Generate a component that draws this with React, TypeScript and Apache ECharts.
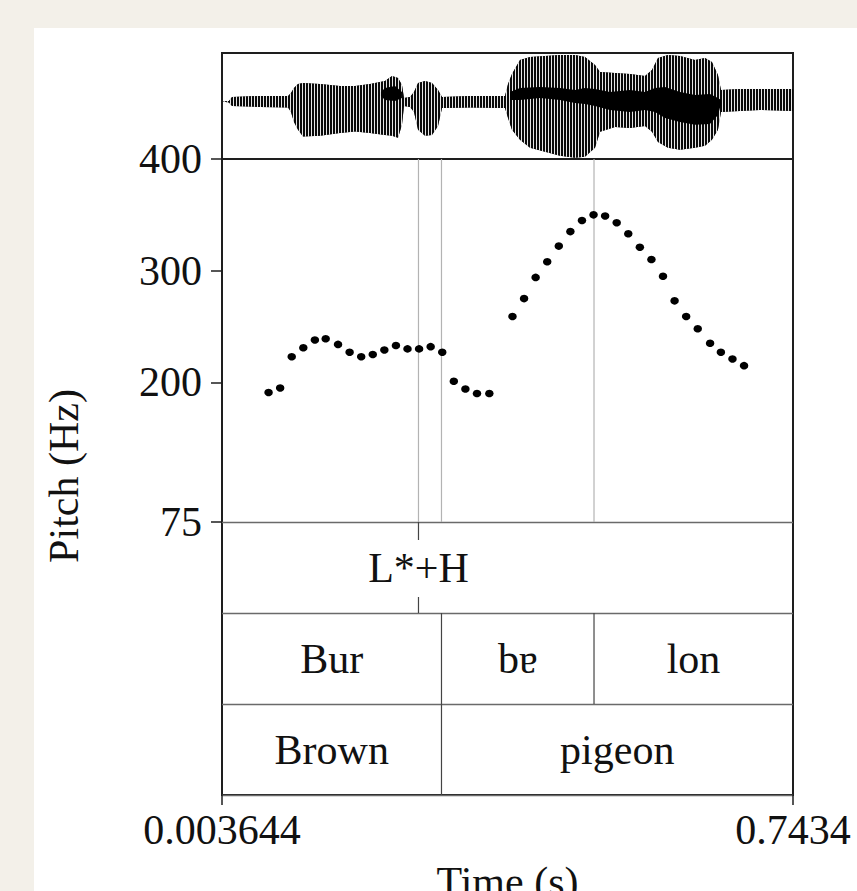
import React, { useEffect, useRef } from "react";
import * as echarts from "echarts";

const T_MIN = 0.003644;
const T_MAX = 0.7434;
const FONT = "'Liberation Serif', 'Times New Roman', serif";
const FS = 42;

// Waveform envelope (amplitude units, 0 = zero line)
const waveTime = [0.0036, 0.0127, 0.0166, 0.0529, 0.0892, 0.093, 0.0969, 0.1021, 0.1086, 0.1306, 0.1565, 0.176, 0.1954, 0.2148, 0.2239, 0.2317, 0.2368, 0.2394, 0.2472, 0.2524, 0.2576, 0.2667, 0.2757, 0.2835, 0.2887, 0.3249, 0.3703, 0.3742, 0.3793, 0.3897, 0.4027, 0.4221, 0.4415, 0.461, 0.4739, 0.4869, 0.4934, 0.5128, 0.5322, 0.5517, 0.5607, 0.5685, 0.5814, 0.597, 0.6164, 0.6294, 0.6384, 0.6462, 0.6501, 0.6747, 0.7006, 0.7434];
const waveUpper = [0, 0.014, 0.097, 0.117, 0.117, 0.179, 0.281, 0.363, 0.384, 0.363, 0.322, 0.322, 0.363, 0.425, 0.528, 0.487, 0.343, 0.076, 0.097, 0.199, 0.384, 0.425, 0.384, 0.24, 0.097, 0.117, 0.117, 0.363, 0.569, 0.856, 0.918, 0.938, 0.959, 0.959, 0.918, 0.754, 0.61, 0.589, 0.569, 0.528, 0.651, 0.897, 0.959, 0.938, 0.856, 0.897, 0.815, 0.548, 0.24, 0.261, 0.261, 0.261];
const waveLower = [0, -0.016, -0.088, -0.109, -0.119, -0.211, -0.417, -0.581, -0.715, -0.704, -0.643, -0.612, -0.643, -0.684, -0.704, -0.745, -0.478, -0.088, -0.109, -0.211, -0.581, -0.704, -0.684, -0.499, -0.129, -0.119, -0.129, -0.335, -0.581, -0.786, -0.951, -1.033, -1.115, -1.156, -1.136, -0.951, -0.622, -0.52, -0.54, -0.499, -0.622, -0.828, -0.951, -0.992, -0.951, -0.91, -0.786, -0.581, -0.211, -0.191, -0.17, -0.191];

// Dense waveform cores
const core1Time = [0.2096, 0.2148, 0.2278, 0.2368];
const core1Upper = [0.199, 0.281, 0.322, 0.199];
const core1Lower = [0.117, 0.035, 0.014, 0.076];
const core2Time = [0.3768, 0.3897, 0.4156, 0.4415, 0.461, 0.4739, 0.4869, 0.5063, 0.5322, 0.5517, 0.5646, 0.5776, 0.597, 0.6164, 0.6358, 0.6462, 0.6501];
const core2Upper = [0.199, 0.281, 0.302, 0.281, 0.24, 0.281, 0.261, 0.199, 0.24, 0.199, 0.281, 0.302, 0.199, 0.138, 0.158, 0.076, 0.035];
const core2Lower = [0.035, 0.035, 0.076, 0.035, -0.027, -0.047, -0.088, -0.17, -0.211, -0.17, -0.211, -0.335, -0.417, -0.478, -0.458, -0.273, -0.047];

// Pitch
const pitchTime1 = [0.064, 0.079, 0.094, 0.109, 0.124, 0.138, 0.154, 0.169, 0.184, 0.199, 0.214, 0.229, 0.244, 0.259, 0.274, 0.289, 0.304, 0.319, 0.334, 0.35];
const pitchHz1 = [191, 195, 223, 231, 238, 239, 234, 227, 223, 225, 229, 233, 230, 230, 232, 227, 201, 194, 190, 190];
const pitchTime2 = [0.38, 0.395, 0.41, 0.425, 0.44, 0.455, 0.47, 0.485, 0.5, 0.515, 0.53, 0.545, 0.56, 0.575, 0.59, 0.605, 0.62, 0.636, 0.65, 0.665, 0.68];
const pitchHz2 = [259, 275, 294, 308, 322, 335, 345, 350, 349, 343, 333, 321, 310, 295, 273, 259, 248, 235, 227, 221, 215];
const pitchTicks = [75, 200, 300, 400];
const timeTicks = [T_MIN, T_MAX];
const pitchMarks = [0.2582, 0.288, 0.4856];

// Tiers
const toneTimes = [0.2582];
const toneLabels = ["L*+H"];
const syllableStarts = [T_MIN, 0.288, 0.4856];
const syllableEnds = [0.288, 0.4856, T_MAX];
const syllableLabels = ["Bur", "bɐ", "lon"];
const wordStarts = [T_MIN, 0.288];
const wordEnds = [0.288, T_MAX];
const wordLabels = ["Brown", "pigeon"];

type TierItem = { kind: "point" | "interval"; start: number; end: number; row: number; label: string };
const tierItems: TierItem[] = [
  ...toneTimes.map((t, i) => ({ kind: "point" as const, start: t, end: t, row: 2, label: toneLabels[i] })),
  ...syllableStarts.map((s, i) => ({ kind: "interval" as const, start: s, end: syllableEnds[i], row: 1, label: syllableLabels[i] })),
  ...wordStarts.map((s, i) => ({ kind: "interval" as const, start: s, end: wordEnds[i], row: 0, label: wordLabels[i] })),
];

const stripeSvg =
  "<svg xmlns='http://www.w3.org/2000/svg' width='3' height='4'><rect width='3' height='4' fill='#e6e6e6'/><rect width='2' height='4' fill='#0a0a0a'/></svg>";
const stripePattern = {
  image: "data:image/svg+xml;charset=utf-8," + encodeURIComponent(stripeSvg),
  repeat: "repeat",
  imageWidth: 3,
  imageHeight: 4,
};

function envelopePolygon(api: any, ts: number[], up: number[], lo: number[], fill: any) {
  const top = ts.map((t, i) => api.coord([t, up[i]]));
  const bot = ts.map((t, i) => api.coord([t, lo[i]])).reverse();
  return { type: "polygon", shape: { points: top.concat(bot) }, style: { fill } };
}

export default function App() {
  const ref = useRef<HTMLDivElement>(null);
  useEffect(() => {
    if (!ref.current) return;
    const chart = echarts.init(ref.current, null, { renderer: "svg" });
    const hidden = { show: false };
    const option: any = {
      animation: false,
      backgroundColor: "transparent",
      grid: [
        { left: 222, right: 64, top: 53, height: 106, show: true, borderColor: "#1e1e1e", borderWidth: 2, backgroundColor: "transparent", outerBoundsMode: "none" },
        { left: 222, right: 64, top: 159, height: 363, show: false, outerBoundsMode: "none" },
        { left: 222, right: 64, top: 522, height: 273, show: false, outerBoundsMode: "none" },
        { left: 222, right: 64, top: 53, height: 742, show: true, borderColor: "#1e1e1e", borderWidth: 2, backgroundColor: "transparent", outerBoundsMode: "none" },
      ],
      xAxis: [
        { gridIndex: 0, type: "value", min: T_MIN, max: T_MAX, ...hidden },
        { gridIndex: 1, type: "value", min: T_MIN, max: T_MAX, ...hidden },
        {
          gridIndex: 2, type: "value", min: T_MIN, max: T_MAX,
          axisLine: { show: false },
          axisTick: { show: true, length: 10, customValues: timeTicks, lineStyle: { color: "#1e1e1e", width: 1.5 } },
          axisLabel: { show: true, customValues: timeTicks, margin: 14, fontSize: FS, fontFamily: FONT, color: "#111", formatter: (v: number) => String(v) },
          splitLine: { show: false },
          name: "Time (s)", nameLocation: "middle", nameGap: 66,
          nameTextStyle: { fontSize: FS, fontFamily: FONT, color: "#111" },
        },
        { gridIndex: 3, type: "value", min: T_MIN, max: T_MAX, ...hidden },
      ],
      yAxis: [
        { gridIndex: 0, type: "value", min: -1.18, max: 1, ...hidden },
        {
          gridIndex: 1, type: "value", min: 75, max: 400,
          axisLine: { show: false },
          axisTick: { show: true, length: 11, customValues: pitchTicks, lineStyle: { color: "#1e1e1e", width: 1.5 } },
          axisLabel: { show: true, customValues: pitchTicks, margin: 20, fontSize: FS, fontFamily: FONT, color: "#111" },
          splitLine: { show: false },
        },
        {
          gridIndex: 2, type: "value", min: 0, max: 3, interval: 1,
          axisLine: { show: false }, axisTick: { show: false }, axisLabel: { show: false },
          splitLine: { show: true, lineStyle: { color: "#6a6a6a", width: 1.3 } },
        },
        { gridIndex: 3, type: "value", min: 0, max: 1, ...hidden },
      ],
      graphic: [
        {
          type: "text", x: 64, y: 476, rotation: Math.PI / 2,
          style: { text: "Pitch (Hz)", fontSize: FS, fontFamily: FONT, fill: "#111", align: "center", verticalAlign: "middle" },
        },
      ],
      series: [
        {
          type: "custom", xAxisIndex: 0, yAxisIndex: 0, data: [[T_MIN, 0]], z: 1,
          renderItem: (params: any, api: any) => ({
            type: "group",
            children: [
              envelopePolygon(api, waveTime, waveUpper, waveLower, "#444"),
              envelopePolygon(api, waveTime, waveUpper, waveLower, stripePattern),
              envelopePolygon(api, core1Time, core1Upper, core1Lower, "#000"),
              envelopePolygon(api, core2Time, core2Upper, core2Lower, "#000"),
            ],
          }),
        },
        {
          type: "custom", xAxisIndex: 1, yAxisIndex: 1, z: 1,
          data: pitchMarks.map((t) => [t, 75]),
          renderItem: (params: any, api: any) => {
            const t = api.value(0);
            const a = api.coord([t, 75]);
            const b = api.coord([t, 400]);
            return { type: "line", shape: { x1: a[0], y1: a[1], x2: b[0], y2: b[1] }, style: { stroke: "#b3b3b3", lineWidth: 1.2 } };
          },
        },
        {
          type: "scatter", xAxisIndex: 1, yAxisIndex: 1, z: 3,
          symbol: "circle", symbolSize: [8.5, 7.5],
          itemStyle: { color: "#000", opacity: 1 },
          data: [
            ...pitchTime1.map((t, i) => [t, pitchHz1[i]]),
            ...pitchTime2.map((t, i) => [t, pitchHz2[i]]),
          ],
        },
        {
          type: "custom", xAxisIndex: 2, yAxisIndex: 2, z: 3,
          data: tierItems.map((it) => [it.start, it.row]),
          renderItem: (params: any, api: any) => {
            const it = tierItems[params.dataIndex];
            const p0 = api.coord([it.start, it.row + 1]);
            const p1 = api.coord([it.end, it.row]);
            const yTop = p0[1];
            const yBot = p1[1];
            const children: any[] = [];
            const textStyle = { fontSize: FS, fontFamily: FONT, fill: "#111", align: "center", verticalAlign: "middle" };
            if (it.kind === "point") {
              const x = p0[0];
              children.push({ type: "line", shape: { x1: x, y1: yTop, x2: x, y2: yTop + 18 }, style: { stroke: "#444", lineWidth: 1.2 } });
              children.push({ type: "line", shape: { x1: x, y1: yBot - 16, x2: x, y2: yBot }, style: { stroke: "#444", lineWidth: 1.2 } });
              children.push({ type: "text", x, y: (yTop + yBot) / 2, style: { text: it.label, ...textStyle } });
            } else {
              if (it.start > T_MIN + 1e-6) {
                children.push({ type: "line", shape: { x1: p0[0], y1: yTop, x2: p0[0], y2: yBot }, style: { stroke: "#444", lineWidth: 1.2 } });
              }
              children.push({ type: "text", x: (p0[0] + p1[0]) / 2, y: (yTop + yBot) / 2, style: { text: it.label, ...textStyle } });
            }
            return { type: "group", children };
          },
        },
      ],
    };
    chart.setOption(option);
    return () => chart.dispose();
  }, []);

  return (
    <div style={{ position: "fixed", left: 0, top: 0, width: 857, height: 891, background: "#f3f0e9", overflow: "hidden" }}>
      <div style={{ position: "absolute", left: 34, top: 28, right: 0, bottom: 0, background: "#ffffff" }} />
      <div ref={ref} style={{ position: "absolute", left: 0, top: 0, width: 857, height: 891 }} />
    </div>
  );
}
